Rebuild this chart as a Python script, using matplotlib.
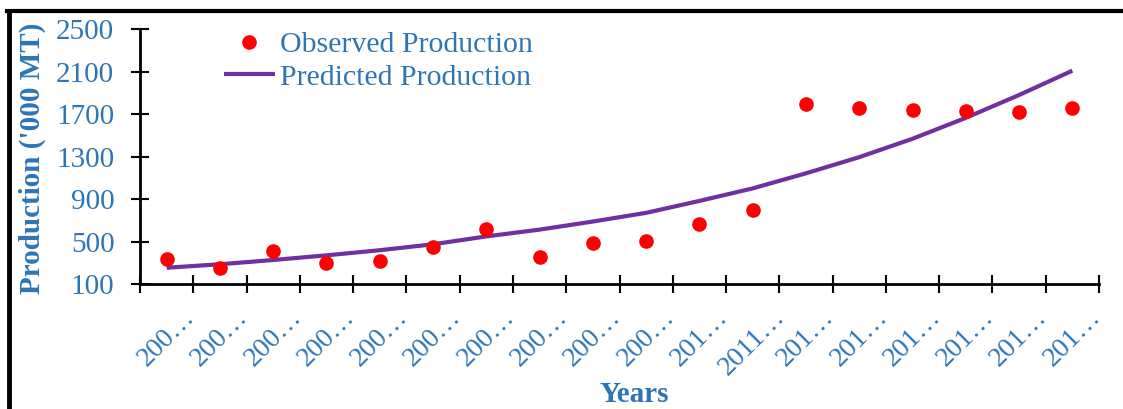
import matplotlib
matplotlib.use("Agg")
import matplotlib.pyplot as plt
from matplotlib.lines import Line2D
import numpy as np

year_labels = ["200…"] * 10 + ["201…", "2011…"] + ["201…"] * 6
observed = [332, 248, 411, 300, 316, 451, 615, 357, 483,
            508, 664, 795, 1791, 1753, 1739, 1726, 1719, 1760]
predicted = [253, 286, 326, 370, 418, 474, 548, 612, 688,
             770, 882, 1000, 1142, 1294, 1467, 1664, 1879, 2108]
y_ticks = [100, 500, 900, 1300, 1700, 2100, 2500]

blue = "#2E75B6"
plt.rcParams["font.family"] = ["Liberation Serif", "DejaVu Serif"]

fig = plt.figure(figsize=(11.23, 4.09), dpi=100)
ax = fig.add_axes([0.1247, 0.3056, 0.8539, 0.6234])

x = np.arange(len(year_labels)) + 0.5
ax.plot(x, predicted, color="#7030A0", lw=3, label="Predicted Production",
        solid_capstyle="butt", solid_joinstyle="round", zorder=2)
ax.plot(x, observed, "o", color="red", ms=9.5, label="Observed Production",
        zorder=3)

ax.set_xlim(0, len(year_labels))
ax.set_ylim(100, 2500)
ax.set_yticks(y_ticks)
ax.set_yticklabels([str(v) for v in y_ticks], color=blue, fontsize=21)

ax.set_xticks(np.arange(len(year_labels) + 1))
ax.set_xticklabels([])
ax.set_xticks(x, minor=True)
ax.set_xticklabels(year_labels, minor=True, rotation=45, ha="center",
                   va="top", color=blue, fontsize=20)
ax.tick_params(axis="x", which="minor", length=0, pad=15)
ax.tick_params(axis="both", which="major", direction="inout", length=13,
               width=1.5, color="black")
ax.tick_params(axis="y", pad=12)

for side in ["top", "right"]:
    ax.spines[side].set_visible(False)
for side in ["left", "bottom"]:
    ax.spines[side].set_linewidth(2)

ax.set_ylabel("Production ('000 MT)", color=blue, fontsize=21,
              fontweight="bold")
ax.set_xlabel("Years", color=blue, fontsize=21, fontweight="bold")
ax.yaxis.set_label_coords(-0.098, 0.494)
ax.xaxis.set_label_coords(0.515, -0.38)

h, l = ax.get_legend_handles_labels()
leg = ax.legend(h[::-1], l[::-1], loc="upper left",
                bbox_to_anchor=(0.0876, 0.99), frameon=False, fontsize=21.5,
                handlelength=1.7, handletextpad=0.17, labelspacing=0.18,
                borderaxespad=0, borderpad=0)
for t in leg.get_texts():
    t.set_color(blue)

# outer frame (top and left edges of the original crop)
fig.add_artist(Line2D([0.0065, 1.0], [0.9725, 0.9725], color="black", lw=3,
                      transform=fig.transFigure))
fig.add_artist(Line2D([0.0081, 0.0081], [0.0, 0.9725], color="black", lw=3.5,
                      transform=fig.transFigure))

fig.savefig("out.png", dpi=100)
